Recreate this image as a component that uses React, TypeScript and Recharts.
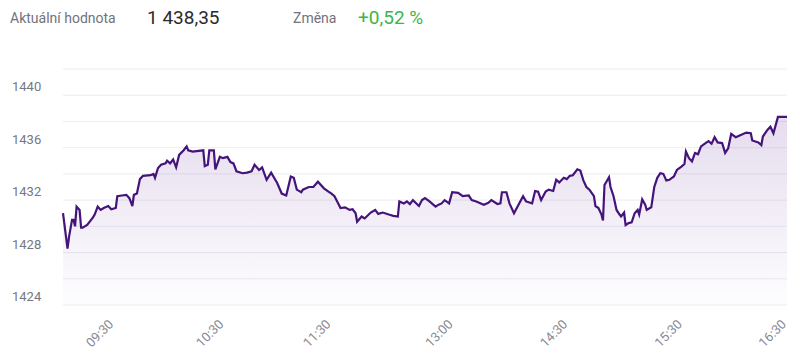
import { AreaChart, Area, XAxis, YAxis, CartesianGrid } from 'recharts';

// session position of each reading (0 = open, 480 = close)
const slots = [
  0, 3, 4, 6, 7, 8, 9, 11, 12, 13, 16, 18, 20, 21, 23, 25, 27, 30, 32, 35,
  36, 39, 42, 44, 46, 47, 49, 51, 53, 58, 60, 61, 63, 65, 68, 69, 71, 73, 75, 77,
  80, 82, 83, 86, 93, 94, 96, 97, 100, 101, 104, 106, 109, 111, 113, 115, 119, 122, 125, 127,
  130, 132, 135, 138, 142, 145, 148, 151, 153, 155, 158, 159, 163, 166, 169, 173, 176, 178, 180, 184,
  187, 190, 192, 194, 195, 198, 200, 204, 207, 209, 212, 216, 219, 222, 223, 226, 228, 230, 232, 236,
  238, 240, 243, 247, 249, 251, 253, 256, 258, 262, 265, 269, 271, 274, 279, 282, 284, 288, 290, 291,
  294, 296, 299, 302, 305, 307, 311, 313, 315, 317, 320, 322, 325, 327, 329, 332, 334, 336, 338, 341,
  343, 345, 347, 349, 352, 353, 355, 357, 358, 359, 362, 363, 365, 367, 369, 370, 372, 373, 375, 377,
  379, 381, 382, 384, 386, 387, 390, 392, 394, 396, 398, 400, 402, 405, 407, 410, 412, 413, 415, 417,
  419, 421, 423, 426, 428, 430, 432, 434, 437, 439, 441, 443, 446, 449, 453, 456, 457, 461, 463, 464,
  467, 469, 471, 474, 480,
];

const prices = [
  1431.0, 1428.3, 1429.2, 1430.5, 1430.5, 1430.0, 1431.5, 1431.25, 1429.9, 1429.9, 1430.1, 1430.4, 1430.7, 1430.9, 1431.5, 1431.25, 1431.4, 1431.55, 1431.3, 1431.4,
  1432.3, 1432.35, 1432.4, 1432.15, 1431.55, 1432.4, 1432.5, 1433.6, 1433.85, 1433.9, 1434.0, 1433.7, 1434.45, 1434.7, 1434.8, 1435.0, 1434.8, 1435.1, 1434.5, 1435.45,
  1435.8, 1436.1, 1435.8, 1435.7, 1435.8, 1434.6, 1434.7, 1435.8, 1435.8, 1434.35, 1435.3, 1435.2, 1435.3, 1434.9, 1434.8, 1434.2, 1434.05, 1434.1, 1434.2, 1434.7,
  1434.3, 1434.5, 1433.55, 1434.1, 1433.3, 1432.5, 1432.35, 1433.8, 1433.7, 1432.8, 1432.6, 1432.8, 1433.0, 1433.0, 1433.4, 1432.9, 1432.65, 1432.5, 1432.3, 1431.4,
  1431.45, 1431.25, 1431.3, 1431.0, 1430.35, 1430.75, 1430.6, 1431.05, 1431.25, 1430.95, 1431.05, 1430.9, 1430.8, 1430.75, 1431.9, 1431.75, 1431.9, 1431.7, 1432.0, 1431.55,
  1432.0, 1432.15, 1431.9, 1431.5, 1431.65, 1431.75, 1432.0, 1431.75, 1432.6, 1432.55, 1432.3, 1432.35, 1432.0, 1431.9, 1431.65, 1431.8, 1432.0, 1431.7, 1431.75, 1432.6,
  1432.6, 1431.75, 1431.0, 1431.65, 1432.3, 1431.9, 1431.75, 1432.7, 1432.65, 1432.0, 1432.65, 1432.8, 1432.7, 1433.55, 1433.35, 1433.7, 1433.6, 1433.85, 1433.9, 1434.35,
  1434.25, 1433.5, 1433.0, 1432.8, 1432.3, 1431.55, 1431.4, 1430.9, 1430.45, 1433.15, 1433.75, 1433.0, 1432.3, 1431.25, 1430.9, 1430.75, 1431.05, 1430.1, 1430.25, 1430.3,
  1431.0, 1431.25, 1430.9, 1432.05, 1431.65, 1431.25, 1431.45, 1433.0, 1433.7, 1434.05, 1434.0, 1433.5, 1433.55, 1433.8, 1434.3, 1434.55, 1434.75, 1435.7, 1435.2, 1434.95,
  1435.6, 1435.5, 1436.1, 1436.35, 1436.5, 1436.3, 1436.8, 1436.4, 1436.35, 1435.6, 1435.95, 1437.05, 1436.8, 1436.95, 1437.15, 1437.1, 1436.55, 1436.4, 1436.2, 1436.85,
  1437.35, 1437.6, 1437.1, 1438.35, 1438.35,
];

const tickSlots = [34, 107, 178, 259, 335, 411, 480];
const tickLabels = ['09:30', '10:30', '11:30', '13:00', '14:30', '15:30', '16:30'];

const gridPrices = [1424, 1426, 1428, 1430, 1432, 1434, 1436, 1438, 1440, 1442];
const labeledPrices = [1424, 1428, 1432, 1436, 1440];

const data = slots.map((s, i) => ({ s, p: prices[i] }));

const FONT = 'Roboto, "Noto Sans", sans-serif';
const PURPLE = '#45147a';

function PriceTick({ y, payload }: any) {
  if (!labeledPrices.includes(payload.value)) return <g />;
  return (
    <text x={12} y={y - 4} fill="#777781" fontSize={13} fontFamily={FONT} textAnchor="start">
      {payload.value}
    </text>
  );
}

function TimeTick({ x, y, payload }: any) {
  const label = tickLabels[tickSlots.indexOf(payload.value)];
  const ty = y + 12;
  return (
    <text
      x={x}
      y={ty}
      transform={`rotate(-45 ${x} ${ty})`}
      textAnchor="end"
      fill="#888892"
      fontSize={13}
      fontFamily={FONT}
    >
      {label}
    </text>
  );
}

export default function App() {
  return (
    <div style={{ position: 'relative', width: 800, height: 360, fontFamily: FONT, background: '#fff' }}>
      <style>{'body{margin:0}'}</style>
      <div style={{ position: 'absolute', top: 10, left: 10, fontSize: 14, color: '#72727c' }}>Aktuální hodnota</div>
      <div style={{ position: 'absolute', top: 6, left: 147, fontSize: 19, color: '#2b2b2b' }}>1 438,35</div>
      <div style={{ position: 'absolute', top: 10, left: 293, fontSize: 14, color: '#72727c' }}>Změna</div>
      <div style={{ position: 'absolute', top: 6, left: 358, fontSize: 19, color: '#3cb54a' }}>+0,52 %</div>
      <AreaChart width={800} height={360} data={data} margin={{ top: 69, right: 13, left: 0, bottom: 0 }}>
        <defs>
          <linearGradient id="pxArea" x1="0" y1="0" x2="0" y2="1">
            <stop offset="0%" stopColor="#7a4aa6" stopOpacity={0.32} />
            <stop offset="100%" stopColor="#7a4aa6" stopOpacity={0.02} />
          </linearGradient>
        </defs>
        <CartesianGrid stroke="#ececf2" vertical={false} horizontalValues={gridPrices} />
        <XAxis
          dataKey="s"
          type="number"
          domain={[0, 480]}
          ticks={tickSlots}
          tick={<TimeTick />}
          tickLine={false}
          axisLine={false}
          height={55}
          interval={0}
        />
        <YAxis
          type="number"
          domain={[1424, 1442]}
          ticks={gridPrices}
          tick={<PriceTick />}
          tickLine={false}
          axisLine={false}
          width={63}
          interval={0}
        />
        <Area
          type="linear"
          dataKey="p"
          baseValue={1424}
          stroke={PURPLE}
          strokeWidth={2.2}
          fill="url(#pxArea)"
          isAnimationActive={false}
          dot={false}
          activeDot={false}
        />
      </AreaChart>
    </div>
  );
}
